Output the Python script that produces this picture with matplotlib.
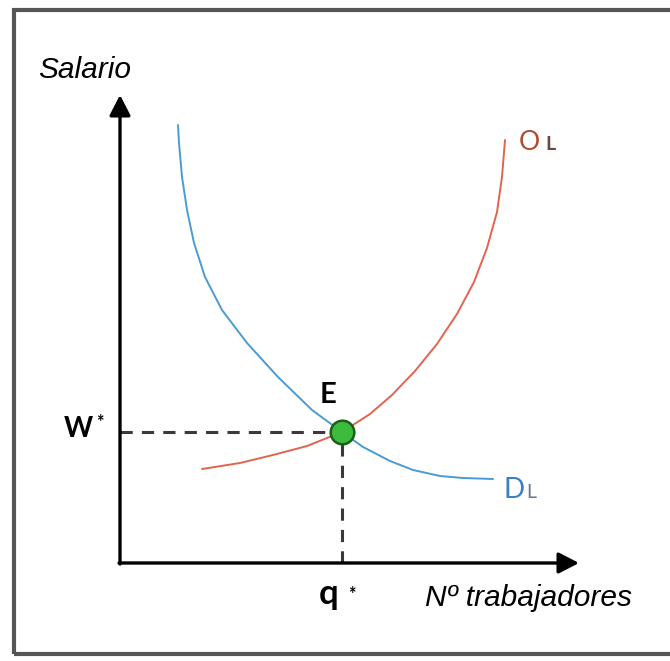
import matplotlib
matplotlib.use("Agg")
import matplotlib.pyplot as plt
from matplotlib.patches import Rectangle

# ---- data (x = workers, y = wage, arbitrary units) ----
demand_x = [1.261, 1.283, 1.348, 1.457, 1.609, 1.848, 2.217, 2.761, 3.435, 4.174, 4.826, 5.283, 5.870, 6.370, 6.957, 7.457, 8.109]
demand_y = [9.522, 9.130, 8.391, 7.674, 6.957, 6.217, 5.500, 4.783, 4.043, 3.326, 2.848, 2.522, 2.217, 2.022, 1.891, 1.848, 1.826]

supply_x = [1.783, 2.609, 3.326, 4.065, 4.826, 5.435, 5.913, 6.413, 6.891, 7.326, 7.696, 7.978, 8.196, 8.304, 8.370]
supply_y = [2.043, 2.174, 2.348, 2.543, 2.848, 3.239, 3.652, 4.174, 4.761, 5.413, 6.109, 6.848, 7.630, 8.391, 9.196]

eq_x = [4.826]
eq_y = [2.848]

x_label = "Nº trabajadores"
y_label = "Salario"
supply_label = ("O", "L")
demand_label = ("D", "L")
eq_label = "E"
wage_label = "W"
qty_label = "q"
star = "*"

# ---- figure ----
W, H = 670, 661
fig = plt.figure(figsize=(W / 100, H / 100), dpi=100)
ax = fig.add_axes([0, 0, 1, 1])
S = 46.0
ax.set_xlim(-120 / S, (W - 120) / S)
ax.set_ylim((563 - H) / S, 563 / S)
ax.axis("off")


def P(px, py):
    return ((px - 120) / S, (563 - py) / S)


# outer frame
fig.patches.append(Rectangle((14 / W, 1 - 654 / H), (700 - 14) / W, (654 - 10) / H,
                             transform=fig.transFigure, fill=False,
                             edgecolor="#555555", linewidth=3.0))

# axes with arrows
arrow_kw = dict(arrowstyle="-|>,head_length=0.62,head_width=0.32", lw=2.4,
                color="black", shrinkA=0, shrinkB=0, mutation_scale=20)
ax.annotate("", xy=P(120, 95), xytext=P(120, 564), arrowprops=arrow_kw)
ax.annotate("", xy=P(579, 563), xytext=P(119, 563), arrowprops=arrow_kw)

# dashed guide lines
ax.plot([0, eq_x[0]], [eq_y[0], eq_y[0]], color="#3a3a3a", lw=2.2,
        dashes=(4, 3), zorder=2)
ax.plot([eq_x[0], eq_x[0]], [0, eq_y[0]], color="#3a3a3a", lw=2.2,
        dashes=(4, 3), zorder=2)

# curves
ax.plot(demand_x, demand_y, color="#4a9bd4", lw=1.4, zorder=3,
        solid_capstyle="round", solid_joinstyle="round")
ax.plot(supply_x, supply_y, color="#e2644f", lw=1.4, zorder=3,
        solid_capstyle="round", solid_joinstyle="round")

# equilibrium point
ax.plot(eq_x, eq_y, "o", markersize=17, markerfacecolor="#3dbb3d",
        markeredgecolor="#1d5e1d", markeredgewidth=1.8, zorder=5)

# texts
ax.text(*P(38, 78), y_label, fontsize=21.5, style="italic",
        family="Liberation Sans", ha="left", va="baseline")
ax.text(*P(425, 606), x_label, fontsize=21.5, style="italic",
        family="Liberation Sans", ha="left", va="baseline")

ax.text(*P(328, 403), eq_label, fontsize=21, weight="bold", family="Lato",
        ha="center", va="baseline")
ax.text(*P(78, 437), wage_label, fontsize=20, weight="bold", family="Lato",
        ha="center", va="baseline")
ax.text(*P(100, 428), star, fontsize=13, weight="bold", family="Lato",
        ha="center", va="baseline")
ax.text(*P(329, 604), qty_label, fontsize=25, weight="bold", family="Lato",
        ha="center", va="baseline")
ax.text(*P(352, 600), star, fontsize=13, weight="bold", family="Lato",
        ha="center", va="baseline")

ax.text(*P(519, 150), supply_label[0], fontsize=19, family="Lato",
        color="#b04a2e", ha="left", va="baseline")
ax.text(*P(545, 150), supply_label[1], fontsize=14, weight="bold", family="Lato",
        color="#6a4a40", ha="left", va="baseline")
ax.text(*P(504, 498), demand_label[0], fontsize=20, family="Lato",
        color="#3f7fc0", ha="left", va="baseline")
ax.text(*P(526, 498), demand_label[1], fontsize=14, family="Lato",
        color="#6a7a90", ha="left", va="baseline")

fig.savefig("out.png", dpi=100)
